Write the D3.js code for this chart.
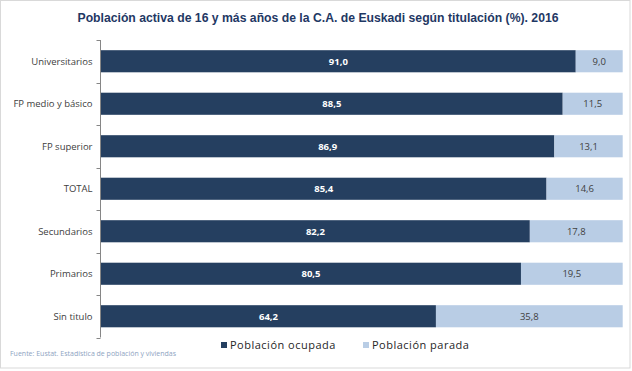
<!DOCTYPE html>
<html><head><meta charset="utf-8">
<script src="https://cdn.jsdelivr.net/npm/d3@7"></script>
<style>body{margin:0;background:#fff}svg{display:block}</style>
</head><body>
<svg id="c" width="632" height="371"></svg>
<script>
const categories = ["Universitarios","FP medio y básico","FP superior","TOTAL","Secundarios","Primarios","Sin titulo"];
const ocupada = [91.0,88.5,86.9,85.4,82.2,80.5,64.2];
const parada = [9.0,11.5,13.1,14.6,17.8,19.5,35.8];
const seriesNames = ["Población ocupada","Población parada"];
const colors = ["#253F60","#B9CDE5"];
const title = "Población activa de 16 y más años de la C.A. de Euskadi según titulación (%). 2016";
const source = "Fuente: Eustat. Estadística de población y viviendas";

const svg = d3.select("#c");
const fmt = v => d3.format(".1f")(v).replace(".", ",");

// border
svg.append("rect").attr("x",0.5).attr("y",0.5).attr("width",629.5).attr("height",367.5)
  .attr("fill","#fff").attr("stroke","#D9D9D9").attr("stroke-width",1);

svg.append("text").attr("x",318).attr("y",22).attr("text-anchor","middle")
  .attr("font-family","Liberation Sans, Arial, sans-serif").attr("font-weight","bold")
  .attr("font-size","12px").attr("fill","#1F3864").attr("textLength",481).attr("lengthAdjust","spacingAndGlyphs").text(title);

const x = d3.scaleLinear().domain([0,100]).range([101,622.7]);
const y = d3.scaleBand().domain(categories).range([40,337.5]).paddingInner(0.48).paddingOuter(0.24);

const rows = categories.map((c,i)=>({c, vals:[ocupada[i],parada[i]]}));
const stack = d3.stack().keys([0,1]).value((d,k)=>d.vals[k])(rows);

stack.forEach((layer,k)=>{
  svg.append("g").selectAll("rect").data(layer).join("rect")
    .attr("x",d=>x(d[0])).attr("width",d=>x(d[1])-x(d[0]))
    .attr("y",d=>y(d.data.c)).attr("height",y.bandwidth())
    .attr("fill",colors[k]);
  svg.append("g").selectAll("text").data(layer).join("text")
    .attr("x",d=>(x(d[0])+x(d[1]))/2).attr("y",d=>y(d.data.c)+y.bandwidth()/2+3.5)
    .attr("text-anchor","middle")
    .attr("font-family","Open Sans, Liberation Sans, sans-serif")
    .attr("font-size","9.5px")
    .attr("font-weight",k===0?"bold":"normal")
    .attr("fill",k===0?"#FFFFFF":"#404040")
    .text((d)=>fmt(d[1]-d[0]));
});

// axis
const yAxisScale = d3.scaleBand().domain(categories).range([40,337.5]);
const ag = svg.append("g").attr("transform","translate(100.5,0)");
ag.append("line").attr("x1",0).attr("x2",0).attr("y1",40).attr("y2",337.5).attr("stroke","#868686");
const tickYs = categories.map(c=>yAxisScale(c)).concat([337.5]);
ag.selectAll("line.t").data(tickYs).join("line").attr("class","t")
  .attr("x1",-4).attr("x2",0).attr("y1",d=>Math.round(d)+0.5).attr("y2",d=>Math.round(d)+0.5).attr("stroke","#868686");
ag.selectAll("text").data(categories).join("text")
  .attr("x",-8).attr("y",c=>y(c)+y.bandwidth()/2+3.5).attr("text-anchor","end")
  .attr("font-family","Open Sans, Liberation Sans, sans-serif").attr("font-size","9.5px")
  .attr("fill","#404040").text(c=>c);

// legend
const lg = svg.append("g");
const lx = [221, 363];
seriesNames.forEach((n,i)=>{
  lg.append("rect").attr("x",lx[i]).attr("y",342).attr("width",6).attr("height",6).attr("fill",colors[i]);
  lg.append("text").attr("x",lx[i]+9).attr("y",349).attr("font-family","Open Sans, Liberation Sans, sans-serif")
    .attr("font-size","11px").attr("letter-spacing","0.5px").attr("fill","#262626").text(n);
});

svg.append("text").attr("x",10).attr("y",356).attr("font-family","Open Sans, Liberation Sans, sans-serif")
  .attr("font-size","7px").attr("fill","#8EA3BF").text(source);
</script>
</body></html>
